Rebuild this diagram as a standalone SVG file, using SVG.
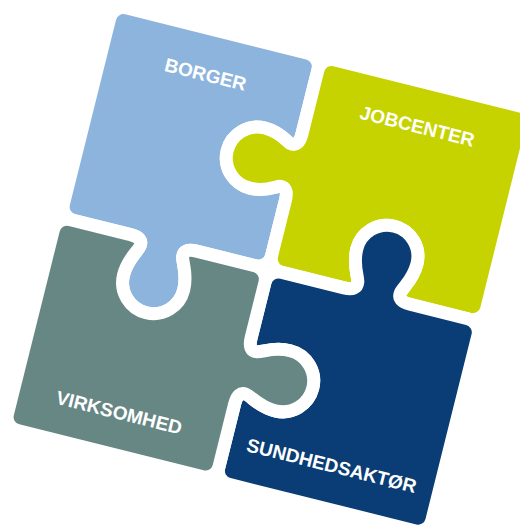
<svg xmlns="http://www.w3.org/2000/svg" width="520" height="525" viewBox="0 0 520 525">
<style>
.piece{stroke:#ffffff;stroke-width:13;stroke-linejoin:round}
.label{font-family:"Liberation Sans",Arial,Helvetica,sans-serif;font-weight:bold;font-size:19px;fill:#ffffff;text-anchor:middle}
</style>
<rect width="520" height="525" fill="#ffffff"/>
<g transform="translate(118,12) rotate(14)">
<g id="borger">
<path class="piece" fill="#8cb4dd" d="M -6.5,8 A 14 14 0 0 1 7.5,-6 L 194,-6 A 14 14 0 0 1 208,8 L 208,74 C 208,83 205,87 199,86 C 195,85 187,77 170.5,77 A 31 31 0 0 0 170.5,139 C 187,139 195,131 199,130 C 205,129 208,133 208,142 L 208,199 A 14 14 0 0 1 194,213 L 134,213 C 125,213 121,216 122,222 C 123,228 131,237 131,254 A 31 31 0 0 1 69,254 C 69,237 77,228 78,222 C 79,216 75,213 66,213 L 7.5,213 A 14 14 0 0 1 -6.5,199 Z"/>
<text class="label" x="100" y="46">BORGER</text>
</g>
<g id="jobcenter">
<path class="piece" fill="#c6d300" d="M 208,8 A 14 14 0 0 1 222,-6 L 415.5,-6 A 14 14 0 0 1 429.5,8 L 429.5,199 A 14 14 0 0 1 415.5,213 L 354,213 C 345,213 341,210 342,204 C 343,198 351,189 351,172 A 31 31 0 0 0 289,172 C 289,189 297,198 298,204 C 299,210 295,213 286,213 L 222,213 A 14 14 0 0 1 208,199 L 208,142 C 208,133 205,129 199,130 C 195,131 187,139 170.5,139 A 31 31 0 0 1 170.5,77 C 187,77 195,85 199,86 C 205,87 208,83 208,74 Z"/>
<text class="label" x="318" y="45">JOBCENTER</text>
</g>
<g id="sundhedsaktoer">
<path class="piece" fill="#0a3d75" d="M 208,227 A 14 14 0 0 1 222,213 L 286,213 C 295,213 299,210 298,204 C 297,198 289,189 289,172 A 31 31 0 0 1 351,172 C 351,189 343,198 342,204 C 341,210 345,213 354,213 L 413.5,213 A 14 14 0 0 1 427.5,227 L 427.5,417.5 A 14 14 0 0 1 413.5,431.5 L 222,431.5 A 14 14 0 0 1 208,417.5 L 208,352 C 208,343 211,339 217,340 C 223,341 232,349 249,349 A 31 31 0 0 0 249,287 C 232,287 223,295 217,296 C 211,297 208,293 208,284 Z"/>
<text class="label" x="317" y="395">SUNDHEDSAKTØR</text>
</g>
<g id="virksomhed">
<path class="piece" fill="#668784" d="M -10,227 A 14 14 0 0 1 4,213 L 66,213 C 75,213 79,216 78,222 C 77,228 69,237 69,254 A 31 31 0 0 0 131,254 C 131,237 123,228 122,222 C 121,216 125,213 134,213 L 194,213 A 14 14 0 0 1 208,227 L 208,284 C 208,293 211,297 217,296 C 223,295 232,287 249,287 A 31 31 0 0 1 249,349 C 232,349 223,341 217,340 C 211,339 208,343 208,352 L 208,416.5 A 14 14 0 0 1 194,430.5 L 4,430.5 A 14 14 0 0 1 -10,416.5 Z"/>
<text class="label" x="98" y="395">VIRKSOMHED</text>
</g>
</g>
</svg>
